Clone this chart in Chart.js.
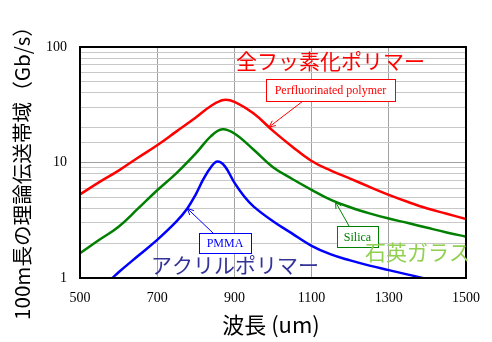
<!DOCTYPE html>
<html>
<head>
<meta charset="utf-8">
<script src="https://cdn.jsdelivr.net/npm/chart.js@4"></script>
<style>
  body { margin: 0; background: #fff; }
  #wrap { width: 492px; height: 342px; }
</style>
</head>
<body>
<div id="wrap"><canvas id="chart" width="492" height="342"></canvas></div>
<script>
// 波長 (nm) と理論伝送帯域 (Gb/s) — 図から読み取った値
var waveRed = [500, 550, 600, 650, 700, 750, 800, 840, 872, 900, 950, 1000, 1050, 1100, 1150, 1200, 1250, 1300, 1350, 1400, 1450, 1500];
var bwRed   = [5.3, 6.76, 8.5, 11.0, 14.1, 18.6, 24.5, 31, 34.8, 33.5, 26.5, 18.8, 13.7, 10.3, 8.5, 7.25, 6.15, 5.25, 4.55, 4.0, 3.6, 3.24];

var waveGreen = [500, 550, 600, 650, 700, 750, 800, 840, 869, 900, 950, 1000, 1050, 1100, 1150, 1200, 1250, 1300, 1350, 1400, 1450, 1500];
var bwGreen   = [1.64, 2.14, 2.78, 3.98, 5.75, 8.1, 12.0, 17.0, 19.4, 17.8, 12.9, 9.1, 7.2, 5.8, 4.75, 4.1, 3.63, 3.27, 2.99, 2.72, 2.48, 2.28];

var waveBlue = [560, 584, 600, 650, 700, 750, 778, 800, 820, 840, 856, 875, 900, 925, 950, 1000, 1050, 1100, 1150, 1200, 1250, 1300, 1350, 1400, 1450];
var bwBlue   = [0.85, 1.0, 1.12, 1.55, 2.14, 3.09, 4.0, 5.3, 7.2, 9.2, 10.2, 9.3, 6.7, 5.1, 4.15, 3.1, 2.42, 1.9, 1.6, 1.42, 1.28, 1.17, 1.07, 0.98, 0.89];

var yLabels = [1, 10, 100];

function pts(xs, ys) {
    return xs.map(function (x, i) { return { x: x, y: ys[i] }; });
}

function series(xs, ys, color) {
    return {
        data: pts(xs, ys),
        borderColor: color,
        borderWidth: 2.5,
        pointRadius: 0,
        fill: false,
        tension: 0.4
    };
}

// 注記 (テキスト・矢印)
function arrow(ctx, x1, y1, x2, y2, color) {
    ctx.save();
    ctx.strokeStyle = color;
    ctx.lineWidth = 1;
    ctx.beginPath();
    ctx.moveTo(x1, y1);
    ctx.lineTo(x2, y2);
    var a = Math.atan2(y2 - y1, x2 - x1);
    var len = 7;
    ctx.moveTo(x2 - len * Math.cos(a - 0.45), y2 - len * Math.sin(a - 0.45));
    ctx.lineTo(x2, y2);
    ctx.lineTo(x2 - len * Math.cos(a + 0.45), y2 - len * Math.sin(a + 0.45));
    ctx.stroke();
    ctx.restore();
}

function box(ctx, x, y, w, h, text, color) {
    ctx.save();
    ctx.fillStyle = '#fff';
    ctx.fillRect(x, y, w, h);
    ctx.strokeStyle = color;
    ctx.lineWidth = 1;
    ctx.strokeRect(x + 0.5, y + 0.5, w, h);
    ctx.fillStyle = color;
    ctx.font = '12px "Liberation Serif"';
    ctx.textAlign = 'center';
    ctx.textBaseline = 'middle';
    ctx.fillText(text, x + w / 2, y + h / 2 + 1);
    ctx.restore();
}

var labelsPlugin = {
    id: 'labels',
    afterDatasetsDraw: function (chart) {
        var ctx = chart.ctx, xs = chart.scales.x, ys = chart.scales.y, a = chart.chartArea;

        // 枠
        ctx.save();
        ctx.strokeStyle = '#000';
        ctx.lineWidth = 2;
        ctx.strokeRect(a.left, a.top, a.right - a.left, a.bottom - a.top);
        ctx.restore();

        // 矢印
        arrow(ctx, 303, 101, xs.getPixelForValue(990), ys.getPixelForValue(20.3), '#ff0000');
        arrow(ctx, 213, 233, xs.getPixelForValue(778), ys.getPixelForValue(4.0), '#0000ff');
        arrow(ctx, 349, 226, xs.getPixelForValue(1162), ys.getPixelForValue(4.55), '#008000');

        box(ctx, 266, 79, 129, 22, 'Perfluorinated polymer', '#ff0000');
        box(ctx, 199, 233, 52, 20, 'PMMA', '#0000ff');
        box(ctx, 337, 226, 41, 21, 'Silica', '#008000');

        ctx.save();
        ctx.font = '21px "Noto Sans CJK JP"';
        ctx.textBaseline = 'middle';
        ctx.textAlign = 'left';
        ctx.fillStyle = '#ff0000';
        ctx.fillText('全フッ素化ポリマー', 236, 61);
        ctx.fillStyle = '#33339a';
        ctx.fillText('アクリルポリマー', 151, 265);
        ctx.fillStyle = '#92d050';
        ctx.fillText('石英ガラス', 365, 252);

        // 軸タイトル
        ctx.fillStyle = '#000';
        ctx.textAlign = 'center';
        ctx.font = '22px "Noto Sans CJK JP"';
        ctx.fillText('波長 (um)', 271, 325);
        ctx.font = '20.6px "Noto Sans CJK JP"';
        ctx.translate(22, 168);
        ctx.rotate(-Math.PI / 2);
        ctx.fillText('100m長の理論伝送帯域（Gb/s）', 0, 0);
        ctx.restore();
    }
};

var ctx = document.getElementById('chart').getContext('2d');
var chart = new Chart(ctx, {
    type: 'line',
    data: {
        datasets: [
            series(waveRed, bwRed, '#ff0000'),
            series(waveGreen, bwGreen, '#008000'),
            series(waveBlue, bwBlue, '#0000ff')
        ]
    },
    options: {
        responsive: false,
        animation: false,
        layout: { padding: { top: 47, right: 16, left: 0, bottom: 0 } },
        plugins: { legend: { display: false }, tooltip: { enabled: false } },
        scales: {
            x: {
                type: 'linear',
                min: 500,
                max: 1500,
                afterFit: function (s) { s.height = 64; },
                border: { display: false },
                grid: { color: '#a0a0a0', lineWidth: 1, drawTicks: false },
                ticks: {
                    stepSize: 200,
                    padding: 12,
                    color: '#000',
                    font: { family: 'Liberation Serif', size: 14 },
                    callback: function (v) { return String(v); }
                }
            },
            y: {
                type: 'logarithmic',
                min: 1,
                max: 100,
                afterFit: function (s) { s.width = 80; },
                border: { display: false },
                grid: {
                    drawTicks: false,
                    lineWidth: 1,
                    color: function (c) {
                        return yLabels.indexOf(c.tick && c.tick.value) >= 0 ? '#a0a0a0' : '#c8c8c8';
                    }
                },
                ticks: {
                    autoSkip: false,
                    padding: 13,
                    color: '#000',
                    font: { family: 'Liberation Serif', size: 14 },
                    callback: function (v) {
                        return yLabels.indexOf(v) >= 0 ? String(v) : '';
                    }
                }
            }
        }
    },
    plugins: [labelsPlugin]
});
</script>
</body>
</html>
